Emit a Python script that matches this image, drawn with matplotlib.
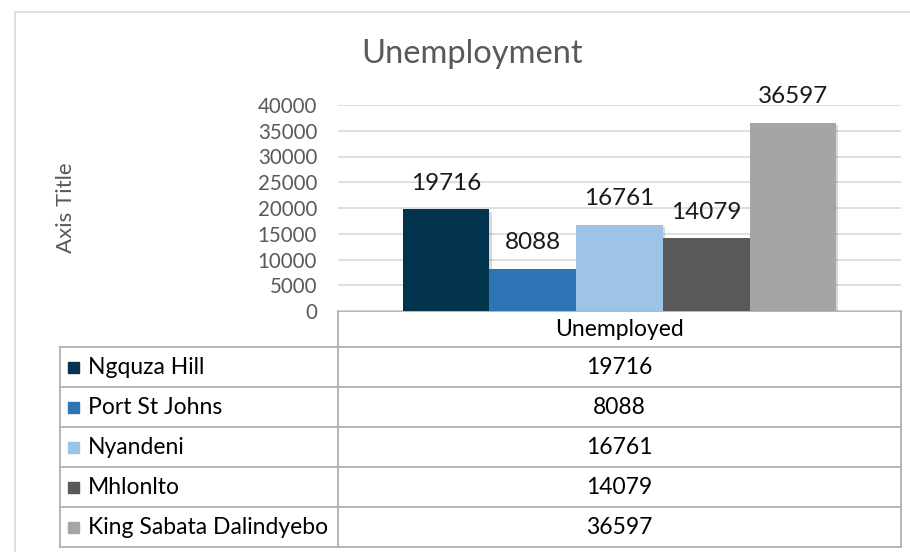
import matplotlib
matplotlib.use("Agg")
import matplotlib.pyplot as plt
import matplotlib.patheffects as pe
import numpy as np

plt.rcParams['font.family'] = ['Lato', 'DejaVu Sans']

# data
districts = ["Ngquza Hill", "Port St Johns", "Nyandeni", "Mhlonlto", "King Sabata Dalindyebo"]
unemployed = [19716, 8088, 16761, 14079, 36597]
colors = ["#03344e", "#2e75b6", "#9dc3e6", "#595959", "#a5a5a5"]
category = "Unemployed"
yticks = [0, 5000, 10000, 15000, 20000, 25000, 30000, 35000, 40000]

W, H = 910, 552
fig = plt.figure(figsize=(W / 100, H / 100), dpi=100)

# pixel helper for layout
def px_axes(x0, y0, x1, y1, **kw):
    return fig.add_axes([x0 / W, 1 - y1 / H, (x1 - x0) / W, (y1 - y0) / H], **kw)

# background overlay (border, table lines)
bg = px_axes(0, 0, W, H)
bg.set_xlim(0, W)
bg.set_ylim(H, 0)
bg.axis("off")
bg.plot([15, 15, W + 5], [H + 5, 12, 12], color="#d9d9d9", lw=1.2)

# bar plot
ax = px_axes(338, 105, 901, 311)
n = len(unemployed)
group = 0.77
bw = group / n
xs = -group / 2 + bw / 2 + bw * np.arange(n)
bars = ax.bar(xs, unemployed, width=bw, color=colors, zorder=3)
for b in bars:
    b.set_path_effects([pe.SimplePatchShadow(offset=(1.5, -1.5), shadow_rgbFace="#000000", alpha=0.15), pe.Normal()])
for x, v in zip(xs, unemployed):
    ax.annotate(str(v), (x, v), xytext=(0, 19), textcoords="offset points",
                ha="center", va="center", fontsize=17.5, color="#1a1a1a")
ax.set_xlim(-0.5, 0.5)
ax.set_ylim(0, 40000)
ax.set_yticks(yticks)
ax.set_yticklabels([str(t) for t in yticks], fontsize=14.8, color="#595959")
ax.tick_params(axis="y", length=0, pad=15)
ax.set_xticks([])
ax.yaxis.grid(True, color="#d9d9d9", lw=1.2, zorder=0)
for s in ax.spines.values():
    s.set_visible(False)
ax.set_facecolor("none")

fig.text(472 / W, 1 - 54 / H, "Unemployment", ha="center", va="center", fontsize=23.5, color="#595959")
fig.text(66 / W, 1 - 208 / H, "Axis Title", ha="center", va="center", rotation=90, fontsize=16, color="#595959")

# data table
lc = "#b0b0b0"
tl, tm, tr = 60, 338, 901
top, hdr = 311, 347
rh = 40
bottom = hdr + rh * n
bg.plot([tm, tr], [top, top], color=lc, lw=1.3)
bg.plot([tm, tm], [top, bottom], color=lc, lw=1.3)
bg.plot([tr, tr], [top, bottom], color=lc, lw=1.3)
bg.plot([tl, tl], [hdr, bottom], color=lc, lw=1.3)
for i in range(n + 1):
    bg.plot([tl, tr], [hdr + rh * i, hdr + rh * i], color=lc, lw=1.3)
bg.text((tm + tr) / 2, (top + hdr) / 2, category, ha="center", va="center", fontsize=16.5, color="#000000")
for i, (name, v, c) in enumerate(zip(districts, unemployed, colors)):
    yc = hdr + rh * i + rh / 2
    bg.add_patch(plt.Rectangle((68, yc - 5.5), 11, 11, color=c))
    bg.text(88, yc, name, ha="left", va="center", fontsize=16.5, color="#000000")
    bg.text((tm + tr) / 2, yc, str(v), ha="center", va="center", fontsize=16.5, color="#000000")

fig.savefig("out.png", dpi=100)
